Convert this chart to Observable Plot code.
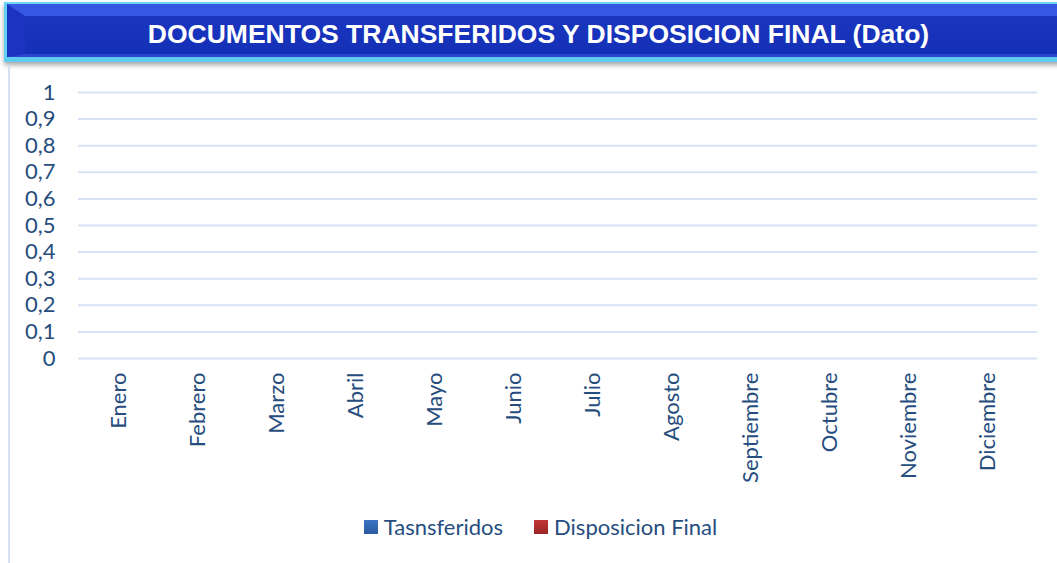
<!DOCTYPE html>
<html><head><meta charset="utf-8">
<script src="https://cdn.jsdelivr.net/npm/d3@7"></script>
<script src="https://cdn.jsdelivr.net/npm/@observablehq/plot@0.6"></script>
<style>
html,body{margin:0;padding:0;background:#fff;width:1057px;height:563px;overflow:hidden;position:relative;font-family:Lato,"Open Sans",sans-serif;}
#banner{position:absolute;left:4px;top:2px;width:1060px;height:53px;border-top:2px solid #6fd6f6;border-left:3px solid #62d0f2;border-bottom:5px solid #5fcdf0;
box-shadow:0 3px 5px rgba(0,0,0,0.35);background:#62d0f2;}
#inner{position:absolute;left:0;top:0;right:0;bottom:0;border-top:12px solid #3657e3;border-left:18px solid #1c33bf;border-bottom:3px solid #2846cf;
background:linear-gradient(#1a36c0,#1430b6);}
#title{position:absolute;left:0;top:5px;width:1057px;height:58px;display:flex;align-items:center;justify-content:center;
color:#fff;font-family:"Liberation Sans",Arial,sans-serif;font-weight:bold;font-size:26.5px;}
#title span{margin-left:20px;}
#frame{position:absolute;left:8px;top:65px;width:2px;height:498px;background:#d5e2f3;}
#chart{position:absolute;left:0;top:65px;}
#legend{position:absolute;top:513px;left:0;width:1057px;display:flex;justify-content:center;gap:31px;font-size:22px;color:#264d7e;margin-left:12px;}
#legend .it{display:flex;align-items:center;gap:6px;}
#legend .sw{width:14px;height:14px;display:inline-block;}
</style></head>
<body>
<div id="banner"><div id="inner"></div></div>
<div id="title"><span>DOCUMENTOS TRANSFERIDOS Y DISPOSICION FINAL (Dato)</span></div>
<div id="frame"></div>
<div id="chart"></div>
<div id="legend"></div>
<script>
const months = ["Enero","Febrero","Marzo","Abril","Mayo","Junio","Julio","Agosto","Septiembre","Octubre","Noviembre","Diciembre"];
const transferidos = [0,0,0,0,0,0,0,0,0,0,0,0];
const disposicionFinal = [0,0,0,0,0,0,0,0,0,0,0,0];
const seriesNames = ["Tasnsferidos","Disposicion Final"];
const seriesColors = ["#3b74c4","#c03535"];
const yTicks = [0,0.1,0.2,0.3,0.4,0.5,0.6,0.7,0.8,0.9,1];

const rows = [];
months.forEach((m,i)=>{
  rows.push({month:m, serie:seriesNames[0], value:transferidos[i]});
  rows.push({month:m, serie:seriesNames[1], value:disposicionFinal[i]});
});

const textColor = "#264d7e";
const plot = Plot.plot({
  width:1057, height:435,
  marginLeft:78, marginRight:20, marginTop:27, marginBottom:142,
  style:{fontFamily:"Lato, 'Open Sans', sans-serif", fontSize:"22px", color:textColor, background:"transparent"},
  x:{domain:months, padding:0, axis:null, label:null},
  y:{domain:[0,1], axis:null, label:null},
  marks:[
    Plot.ruleY(yTicks,{stroke:"#d6e3f4", strokeWidth:2}),
    Plot.barY(rows.filter(d=>d.serie===seriesNames[0]),{x:"month", y:"value", fill:seriesColors[0], insetLeft:22, insetRight:42}),
    Plot.barY(rows.filter(d=>d.serie===seriesNames[1]),{x:"month", y:"value", fill:seriesColors[1], insetLeft:42, insetRight:22}),
    Plot.axisY(yTicks,{label:null, tickSize:0, tickPadding:23, tickFormat:d=>String(d).replace(".",","), fill:textColor, fontSize:22}),
    Plot.axisX({label:null, tickSize:0, tickPadding:14, tickRotate:-90, dx:-5, fill:textColor, fontSize:22})
  ]
});
document.getElementById("chart").appendChild(plot);

const leg = document.getElementById("legend");
seriesNames.forEach((n,i)=>{
  const it = document.createElement("div"); it.className="it";
  const sw = document.createElement("span"); sw.className="sw";
  sw.style.background = `linear-gradient(${seriesColors[i]}, ${i===0?"#2a5aa0":"#9a2626"})`;
  const t = document.createElement("span"); t.textContent = n;
  it.appendChild(sw); it.appendChild(t); leg.appendChild(it);
});
</script>
</body></html>
